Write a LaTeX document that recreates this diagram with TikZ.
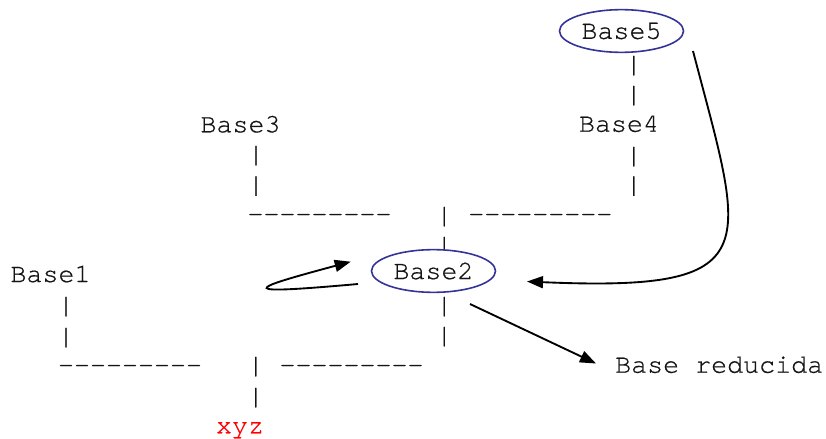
\documentclass[tikz,border=0pt]{standalone}
\usepackage{fontspec}
\newfontfamily\monofont[FakeBold=0.6]{TeX Gyre Cursor}
\usetikzlibrary{arrows.meta,shapes.geometric}
\definecolor{ellblue}{RGB}{51,51,153}
\definecolor{artgray}{RGB}{20,20,20}
\begin{document}
\begin{tikzpicture}[x=0.75pt,y=-0.75pt,
  txt/.style={font=\monofont\fontsize{20}{24}\selectfont, inner sep=0pt, anchor=base, text=artgray},
  ell/.style={ellipse, draw=ellblue, line width=1.2pt, fill=white, minimum width=93pt, minimum height=32pt, inner sep=0pt, font=\monofont\fontsize{20}{24}\selectfont, text=artgray},
  arr/.style={-{Triangle[length=12pt,width=9pt]}, line width=1.4pt, black}]
\useasboundingbox (0,0) rectangle (826,439);
% ---- ASCII-art tree (text) ----
\node[txt] (b5bar1) at (633.7,72) {|};
\node[txt] (b5bar2) at (633.7,102) {|};
\node[txt] (b4) at (619,131.7) {Base4};
\node[txt] (b4bar1) at (633.7,163) {|};
\node[txt] (b4bar2) at (633.7,192.5) {|};
\node[txt] (b3) at (240.5,132.3) {Base3};
\node[txt] (b3bar1) at (256,162) {|};
\node[txt] (b3bar2) at (256,192.5) {|};
\node[txt] (topdl) at (319.5,222) {---------};
\node[txt] (topbar1) at (444.3,223) {|};
\node[txt] (topbar2) at (444.3,253) {|};
\node[txt] (topdr) at (540.3,222) {---------};
\node[txt] (b1) at (50.5,282) {Base1};
\node[txt] (b1bar1) at (66,313) {|};
\node[txt] (b1bar2) at (66,344) {|};
\node[txt] (b2bar1) at (444.3,313) {|};
\node[txt] (b2bar2) at (444.3,343) {|};
\node[txt] (botdl) at (130,373) {---------};
\node[txt] (botbar1) at (255.7,373) {|};
\node[txt] (botbar2) at (255.7,404) {|};
\node[txt] (botdr) at (351.5,373) {---------};
\node[txt, text=red] (xyz) at (240,433.3) {xyz};
\node[txt] (red) at (719.2,372.7) {Base reducida};
% ---- highlighted nodes ----
\node[ell] (b5) at (621.5,31) {Base5};
\node[ell] (b2) at (433.5,271) {Base2};
% ---- connectors ----
\coordinate (b5out) at (693,51);
\coordinate (b2in) at (527,281.5);
\coordinate (loopA) at (358,284);
\coordinate (loopB) at (350.7,261.7);
\coordinate (b2out) at (470,304);
\coordinate (redin) at (596,363.5);
\draw[arr] (b5out) .. controls (745,250) and (770,292) .. (b2in);
\draw[arr] (loopA) .. controls (235,295) and (245,290) .. (loopB);
\draw[arr] (b2out) -- (redin);
\end{tikzpicture}
\end{document}
